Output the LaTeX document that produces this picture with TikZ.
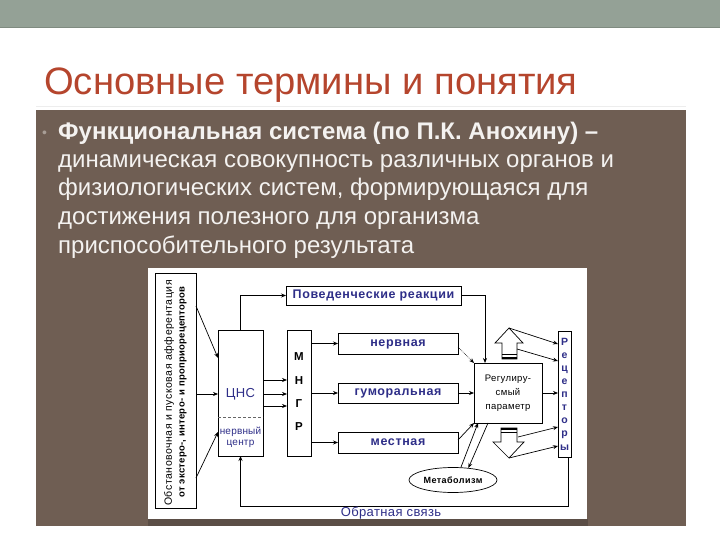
\documentclass[tikz,border=0pt]{standalone}
\usepackage{fontspec}
\setmainfont{Liberation Sans}
\usetikzlibrary{arrows.meta,shapes.geometric}
\definecolor{band}{HTML}{94A196}
\definecolor{bandline}{HTML}{7F8B80}
\definecolor{titlered}{HTML}{B5452D}
\definecolor{panel}{HTML}{6F5E53}
\definecolor{panelshadow}{HTML}{5B4E46}
\definecolor{bodytext}{HTML}{F4F2F0}
\definecolor{bulletgray}{HTML}{A89E96}
\definecolor{navy}{HTML}{2E2E88}
\newcommand{\lsp}[1]{\addfontfeature{LetterSpace=#1}}
\begin{document}
\begin{tikzpicture}[x=1pt,y=-1pt,
  box/.style={draw=black, line width=0.7pt, fill=white, inner sep=0pt, outer sep=0pt},
  arr/.style={draw=black, line width=0.7pt, -{Stealth[length=5pt,width=4pt]}},
  dlab/.style={text=navy, text height=6.5pt, text depth=1.5pt, font=\fontsize{12.5}{14}\selectfont\bfseries\lsp{5}},
  body/.style={anchor=base west, text=bodytext, inner sep=0pt, font=\fontsize{24}{28}\selectfont},
]
\useasboundingbox (0,0) rectangle (720,540);
\fill[white] (0,0) rectangle (720,540);
% top band
\fill[band] (0,0) rectangle (720,27);
\fill[bandline] (0,27) rectangle (720,28.5);
% title
\node[anchor=base west, inner sep=0pt, text=titlered, font=\fontsize{38.2}{40}\selectfont] (title) at (44,95) {Основные термины и понятия};
\draw[line width=0.6pt, draw=black!7] (36,106) -- (686,106);
% panel
\fill[panel] (36,110) rectangle (686,526);
\fill[panelshadow] (148,519) rectangle (588,526);
% bullet text
\node[anchor=base west, inner sep=0pt, text=bulletgray, font=\fontsize{14}{14}\selectfont] (bul) at (42,138) {•};
\node[body, font=\fontsize{24}{28}\selectfont\bfseries] (l1) at (58,139.5) {Функциональная система (по П.К. Анохину) –};
\node[body] (l2) at (58,167.5) {динамическая совокупность различных органов и};
\node[body] (l3) at (58,196) {физиологических систем, формирующаяся для};
\node[body] (l4) at (58,224.5) {достижения полезного для организма};
\node[body] (l5) at (58,253) {приспособительного результата};
% diagram background
\fill[white] (148,268) rectangle (587,519);
% boxes
\node[box, minimum width=41pt, minimum height=235pt] (aff) at (175.5,390.5) {};
\node[rotate=90, inner sep=0pt, font=\fontsize{10.5}{11}\selectfont\lsp{5}] (affA) at (169,393) {Обстановочная и пусковая афферентация};
\node[rotate=90, inner sep=0pt, font=\fontsize{9.5}{10}\selectfont\bfseries\lsp{3}] (affB) at (183,392) {от экстеро-, интеро- и проприорецепторов};
\node[box, minimum width=45pt, minimum height=126pt] (cns) at (240.5,393) {};
\draw[densely dashed, line width=0.5pt, draw=black!60] (cns.west |- 0,417) -- (cns.east |- 0,417);
\node[text=navy, font=\fontsize{13}{13}\selectfont\lsp{3}, inner sep=0pt] (cnsT) at (240.5,394) {ЦНС};
\node[text=navy, font=\fontsize{10}{10}\selectfont\lsp{2}, inner sep=0pt] (nc1) at (240.5,432) {нервный};
\node[text=navy, font=\fontsize{10}{10}\selectfont\lsp{2}, inner sep=0pt] (nc2) at (240.5,444) {центр};
\node[box, minimum width=24pt, minimum height=126pt] (mngr) at (299,393) {};
\node[font=\fontsize{11.5}{12}\selectfont\bfseries, inner sep=0pt] (mM) at (299,357) {М};
\node[font=\fontsize{11.5}{12}\selectfont\bfseries, inner sep=0pt] (mN) at (299,381) {Н};
\node[font=\fontsize{11.5}{12}\selectfont\bfseries, inner sep=0pt] (mG) at (299,404) {Г};
\node[font=\fontsize{11.5}{12}\selectfont\bfseries, inner sep=0pt] (mR) at (299,427) {Р};
\node[box, minimum width=175pt, minimum height=19pt, dlab] (beh) at (373.5,295.5) {Поведенческие реакции};
\node[box, minimum width=120pt, minimum height=21pt, dlab] (nerv) at (398,343.5) {нервная};
\node[box, minimum width=120pt, minimum height=20pt, dlab] (hum) at (398,393) {гуморальная};
\node[box, minimum width=120pt, minimum height=21pt, dlab] (loc) at (398,442.5) {местная};
\node[box, minimum width=68pt, minimum height=60pt, align=center, font=\fontsize{9.5}{14}\selectfont\lsp{4}] (param) at (508,393) {Регулиру-\\смый\\параметр};
\node[box, minimum width=13pt, minimum height=126pt, text=navy, align=center, font=\fontsize{10.5}{13.1}\selectfont\bfseries] (rec) at (564.5,394) {Р\\е\\ц\\е\\п\\т\\о\\р\\ы};
\node[draw=black, line width=0.7pt, fill=white, ellipse, minimum width=88pt, minimum height=25pt, inner sep=0pt, font=\fontsize{9}{10}\selectfont\bfseries\lsp{5}] (metab) at (453,480) {Метаболизм};
% hollow arrows
\draw[line width=0.7pt, fill=white] (509,328) -- (523,343) -- (517,343) -- (517,359) -- (502,359) -- (502,343) -- (495,343) -- cycle;
\draw[line width=0.6pt] (502,354.5) -- (517,354.5);
\draw[line width=2pt] (502,358) -- (517,358);
\coordinate (upTip) at (509,328);
\coordinate (upSide) at (517,349);
\draw[line width=0.7pt, fill=white] (501,428) -- (517,428) -- (517,442) -- (524,442) -- (509,458) -- (493,442) -- (501,442) -- cycle;
\draw[line width=2pt] (501,428.5) -- (517,428.5);
\draw[line width=0.6pt] (501,432) -- (517,432);
\coordinate (dnSide) at (518,437);
\coordinate (dnTip) at (509,458);
% connectors
\draw[arr] (aff.east |- 0,306) -- (cns.west |- 0,358);
\draw[arr] (aff.east |- 0,394) -- (cns.west |- 0,394);
\draw[arr] (aff.east |- 0,478) -- (cns.west |- 0,432);
\draw[arr] (cns.east |- 0,380) -- (mngr.west |- 0,380);
\draw[arr] (cns.east |- 0,394) -- (mngr.west |- 0,394);
\draw[arr] (cns.east |- 0,406) -- (mngr.west |- 0,406);
\draw[arr] (cns.north) |- (beh.west);
\draw[arr] (beh.east) -| (485,0 |- param.north);
\draw[arr] (mngr.east |- nerv.west) -- (nerv.west);
\draw[arr] (mngr.east |- hum.west) -- (hum.west);
\draw[arr] (mngr.east |- loc.west) -- (loc.west);
\draw[arr, densely dotted] (nerv.east |- 0,347) -- (param.north west);
\draw[arr] (hum.east) -- (param.west |- hum.east);
\draw[arr] (loc.east |- 0,440) -- (param.south west);
\draw[arr] (metab.58) -- (param.south -| 478,0);
\draw[arr] (param.south -| 488,0) -- (metab.38);
\draw[arr] (param.east) -- (rec.west |- param.east);
\draw[arr] (upTip) -- (rec.west |- 0,344);
\draw[arr] (upSide) -- (rec.west |- 0,361);
\draw[arr] (dnSide) -- (rec.west |- 0,427);
\draw[arr] (dnTip) -- (rec.west |- 0,446);
\coordinate (fbR) at (568,506);
\coordinate (fbL) at (240.5,506);
\draw[arr] (rec.south -| fbR) -- (fbR) -- (fbL) -- (cns.south);
\node[text=navy, font=\fontsize{13}{13}\selectfont\lsp{3}, inner sep=0pt] (fbT) at (391,513.5) {Обратная связь};
\end{tikzpicture}
\end{document}
